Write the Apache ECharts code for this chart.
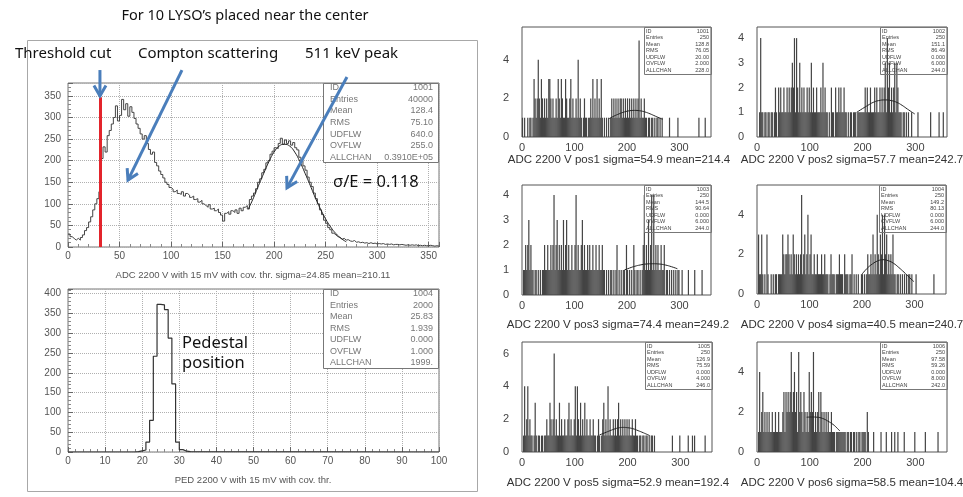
<!DOCTYPE html>
<html><head><meta charset="utf-8">
<script src="https://cdn.jsdelivr.net/npm/echarts@6/dist/echarts.min.js"></script>
<style>html,body{margin:0;padding:0;background:#fff}#c{width:963px;height:497px}</style>
</head><body><div id="c"></div>
<script>
// ---------------- DATA ----------------
const mainBinWidth = 2;
const mainCounts = [
 30,24,20,16,20,16,22,28,38,45,58,70,86,100,112,128,205,232,220,258,
 270,285,300,327,292,305,342,318,332,303,325,312,298,285,275,262,250,258,240,226,
 215,220,196,188,176,168,160,150,145,138,134,128,132,124,122,128,118,124,120,115,
 118,110,112,104,108,100,96,92,98,88,90,84,88,80,74,60,78,82,76,84,
 80,86,78,90,84,92,96,88,110,118,125,135,150,158,172,180,195,200,215,222,
 230,228,240,252,238,248,240,246,236,242,230,225,208,200,188,178,162,150,140,125,
 112,100,86,75,62,55,45,40,32,28,24,22,18,20,16,17,14,13,15,11,
 12,10,11,9,10,8,10,8,9,7,8,7,8,6,7,6,7,5,6,6,
 5,6,5,4,5,4,5,4,5,3,4,3,4,3,3,4,3,2,3,2];
const mainFitX = [175,180,185,190,195,200,205,210,215,220,225,230,235,240,245,250,255,260,265,270];
const mainFitY = [88,114,143,171,198,220,234,238,234,220,198,171,143,114,88,65,46,31,20,12];
const thresholdX = 31;
const thresholdTop = 347;
const mainStats = [['ID','1001'],['Entries','40000'],['Mean','128.4'],['RMS','75.10'],['UDFLW','640.0'],['OVFLW','255.0'],['ALLCHAN','0.3910E+05']];
const mainCaption = 'ADC 2200 V with 15 mV with cov. thr. sigma=24.85 mean=210.11';

const pedFirstEdge = 18;
const pedBinWidth = 1;
const pedCounts = [1,3,5,25,80,242,373,372,360,288,172,25,6,2,1];
const pedStats = [['ID','1004'],['Entries','2000'],['Mean','25.83'],['RMS','1.939'],['UDFLW','0.000'],['OVFLW','1.000'],['ALLCHAN','1999.']];
const pedCaption = 'PED 2200 V with 15 mV with cov. thr.';

const smallBinWidth = 2;
const pos1Counts = [
 1,0,1,0,0,1,0,1,1,0,1,3,2,1,2,4,2,1,3,2,
 1,2,1,2,1,3,3,2,1,2,1,1,2,1,3,2,1,3,2,1,
 1,3,2,1,1,2,3,1,2,1,1,2,1,4,1,2,1,0,1,2,
 1,1,0,1,1,2,1,3,1,2,1,3,1,2,1,3,1,0,1,0,
 1,0,1,0,1,2,1,2,1,2,1,2,1,2,2,1,2,1,2,1,
 2,1,2,1,2,1,2,1,2,1,2,5,1,2,1,1,2,1,1,0,
 1,1,0,1,1,0,1,0,1,1,0,1,0,1,0,0,0,0,0,0,
 1,0,0,0,0,0,0,0,1,0,0,0,0,0,0,0,0,0,0,0,
 0,0,0,0,0,0,0,0,1,0,0,0,0,0,1,0,0,0,0,0];
const pos2Counts = [
 0,0,1,4,1,1,0,1,1,0,1,1,0,1,1,0,1,2,1,0,
 2,1,2,1,1,2,1,1,2,1,2,1,2,3,2,4,1,4,2,1,
 3,1,2,1,2,1,1,2,1,2,1,3,1,2,1,1,2,1,1,1,
 2,1,3,1,2,1,1,0,1,0,2,1,1,0,2,1,1,2,1,2,
 1,1,2,1,1,0,1,0,1,1,0,1,1,1,0,1,1,1,1,1,
 1,1,2,1,2,1,1,2,1,1,1,2,1,2,1,1,2,1,2,1,
 2,3,1,4,2,3,1,2,1,2,3,1,3,2,1,1,1,0,1,1,
 0,1,0,1,0,0,1,0,0,0,0,0,1,0,0,0,0,0,0,0,
 0,0,0,0,1,0,0,0,0,0,0,0,1,0,0,0,1,0,0,0];
const pos3Counts = [
 0,1,1,2,1,2,3,1,2,1,1,0,1,1,0,1,0,1,0,1,
 1,2,1,1,2,1,1,2,1,2,4,1,2,3,1,2,1,2,1,3,
 1,2,3,1,2,1,1,2,1,1,2,4,1,2,1,1,2,3,1,2,
 1,1,2,1,2,1,1,2,1,1,2,1,1,2,1,1,2,1,1,0,
 1,0,1,0,1,1,0,1,0,1,2,0,1,0,1,0,1,1,0,2,
 1,0,1,0,1,0,2,1,0,1,1,0,1,0,1,2,4,1,2,1,
 3,1,2,4,1,4,1,2,1,2,1,1,2,1,1,2,0,1,1,0,
 1,0,1,0,1,0,1,0,1,1,0,0,1,0,0,0,0,0,1,0,
 0,0,0,0,1,0,0,0,0,0,0,1,0,0,0,0,0,0,0,0];
const pos4Counts = [
 0,3,1,1,3,1,0,1,0,3,1,0,0,1,0,1,0,1,1,0,
 1,1,1,1,3,2,1,2,2,3,2,1,2,1,3,2,1,2,1,2,
 1,2,5,1,2,3,1,2,4,1,2,3,1,1,2,1,1,2,1,1,
 1,2,1,1,2,1,1,1,0,1,2,1,1,1,0,1,1,1,2,1,
 1,1,0,2,1,1,1,0,1,1,2,0,1,0,1,0,1,0,0,1,
 1,0,1,0,1,2,1,1,2,1,3,1,2,1,4,2,1,3,2,4,
 1,4,2,3,1,2,1,2,1,3,1,1,0,1,1,0,1,0,1,0,
 1,0,1,0,1,1,0,1,0,0,0,1,0,0,0,0,0,0,0,0,
 0,0,0,0,0,0,0,0,1,0,0,0,0,0,0,0,0,0,0,0];
const pos5Counts = [
 0,1,4,1,2,4,1,2,1,1,0,1,3,1,0,1,1,0,1,1,
 0,1,1,2,1,1,3,2,1,2,6,1,2,1,1,3,1,2,1,1,
 2,1,1,2,3,1,2,1,1,2,4,1,4,2,1,3,1,2,1,3,
 1,2,1,1,2,1,1,2,1,1,0,1,2,1,0,1,2,3,1,2,
 1,4,1,2,1,1,2,1,2,1,2,3,1,2,1,2,1,2,1,2,
 1,2,1,1,2,1,1,2,1,1,0,1,1,0,1,1,0,1,1,0,
 1,0,1,1,0,1,0,0,0,0,0,0,0,0,0,0,0,0,0,0,
 0,0,1,0,0,0,0,0,0,1,0,0,0,0,0,0,0,1,0,0,
 0,1,0,1,0,0,0,0,0,0,0,0,0,1,0,0,0,0,0,0];
const pos6Counts = [
 0,1,4,1,2,3,1,2,1,2,1,2,1,1,2,1,1,2,1,1,
 2,1,1,1,2,3,1,3,2,3,2,3,5,2,3,4,2,3,1,5,
 2,3,2,1,3,2,1,2,1,4,2,3,2,5,1,2,1,2,3,1,
 3,2,1,2,1,2,1,2,1,1,2,1,1,1,0,1,1,1,1,1,
 1,1,1,1,0,1,1,0,1,1,0,1,1,0,1,0,1,1,0,1,
 1,1,1,0,2,1,0,0,0,0,1,0,0,0,0,0,0,1,0,0,
 0,0,1,0,0,0,0,1,0,0,1,0,0,1,0,0,0,0,0,1,
 0,0,0,0,0,0,0,0,0,1,0,0,0,0,0,0,0,0,0,1,
 0,0,0,0,0,0,0,0,0,0,0,1,0,0,0,0,0,0,0,0];
const pos1FitX = [166,175,185,195,205,214,224,234,244,254,264,268];
const pos1FitY = [0.95,1.08,1.2,1.3,1.36,1.38,1.36,1.3,1.2,1.08,0.96,0.92];
const pos2FitX = [189,200,210,220,230,243,255,265,275,285,299];
const pos2FitY = [1.0,1.15,1.28,1.4,1.47,1.5,1.47,1.4,1.28,1.13,0.93];
const pos3FitX = [195,205,215,225,237,249,261,273,285,296];
const pos3FitY = [1.0,1.08,1.15,1.2,1.24,1.25,1.24,1.2,1.13,1.05];
const pos4FitX = [200,210,220,230,240,250,260,270,280,290,299];
const pos4FitY = [1.0,1.3,1.52,1.67,1.73,1.68,1.55,1.34,1.1,0.84,0.62];
const pos5FitX = [147,157,167,177,185,192,200,210,220,230,242];
const pos5FitY = [1.04,1.17,1.3,1.42,1.48,1.5,1.48,1.42,1.3,1.17,1.0];
const pos6FitX = [94,104,114,124,134,144,150,157];
const pos6FitY = [1.74,1.75,1.74,1.68,1.55,1.38,1.24,1.05];
const smallCaptions = [
 'ADC 2200 V pos1 sigma=54.9 mean=214.4','ADC 2200 V pos2 sigma=57.7 mean=242.7',
 'ADC 2200 V pos3 sigma=74.4 mean=249.2','ADC 2200 V pos4 sigma=40.5 mean=240.7',
 'ADC 2200 V pos5 sigma=52.9 mean=192.4','ADC 2200 V pos6 sigma=58.5 mean=104.4'];
const smallYMax = [5.7,4.45,4.4,5.5,6.7,5.5];
const smallYInterval = [2,1,1,2,2,2];
const smallStats = [
 [['ID','1001'],['Entries','250'],['Mean','128.8'],['RMS','76.05'],['UDFLW','20.00'],['OVFLW','2.000'],['ALLCHAN','228.0']],
 [['ID','1002'],['Entries','250'],['Mean','151.1'],['RMS','86.49'],['UDFLW','0.000'],['OVFLW','6.000'],['ALLCHAN','244.0']],
 [['ID','1003'],['Entries','250'],['Mean','144.5'],['RMS','90.64'],['UDFLW','0.000'],['OVFLW','6.000'],['ALLCHAN','244.0']],
 [['ID','1004'],['Entries','250'],['Mean','149.2'],['RMS','80.13'],['UDFLW','0.000'],['OVFLW','6.000'],['ALLCHAN','244.0']],
 [['ID','1005'],['Entries','250'],['Mean','126.9'],['RMS','75.59'],['UDFLW','0.000'],['OVFLW','4.000'],['ALLCHAN','246.0']],
 [['ID','1006'],['Entries','250'],['Mean','97.58'],['RMS','59.26'],['UDFLW','0.000'],['OVFLW','8.000'],['ALLCHAN','242.0']]];
// annotation arrows, in data units of the top-left histogram
const arrowFrom = [[31,410],[110.6,410],[270.7,394]];
const arrowTo   = [[31,350],[58.2,155],[212.5,137]];

// ---------------- LAYOUT ----------------
const RF = 'Liberation Sans';
const AF = 'Noto Sans';
const gridRects = [
 {left:68, top:83, width:371, height:164},
 {left:68, top:289, width:371, height:163},
 {left:522, top:27, width:189, height:110},
 {left:757, top:27, width:190, height:110},
 {left:522, top:185, width:189, height:110},
 {left:757, top:185, width:189, height:109},
 {left:522, top:342, width:190, height:110},
 {left:757, top:342, width:190, height:110}
];
const captionPos = [[619,160],[852,160],[618,325],[852,325],[618,483],[852,483]];

const chart = echarts.init(document.getElementById('c'), null, {renderer:'canvas', width:963, height:497});

const grids = gridRects.map((r,i)=>Object.assign({}, r, {show:true, borderColor: i<2 ? '#777' : '#555', borderWidth:1, backgroundColor:'transparent', containLabel:false}));
const xAxes = [], yAxes = [], series = [];

function bigAxis(gi, min, max, interval, showMax) {
  return {gridIndex:gi, type:'value', min:min, max:max, interval:interval,
    axisLine:{show:false},
    axisTick:{show:true, inside:true, length:5, lineStyle:{color:'#666'}},
    minorTick:{show:true, splitNumber:5, length:3, lineStyle:{color:'#888'}},
    splitLine:{show:true, lineStyle:{type:'dotted', color:'#b0b0b0'}},
    axisLabel:{fontFamily:RF, fontSize:10, color:'#555', margin:4, showMaxLabel:showMax}};
}
xAxes.push(bigAxis(0,0,360,50,false));
yAxes.push(bigAxis(0,0,380,50,false));
xAxes.push(bigAxis(1,0,100,10,true));
yAxes.push(bigAxis(1,0,412,50,false));
yAxes[0].axisLabel.margin = 7; yAxes[1].axisLabel.margin = 7;

// main histogram (step)
const mainData = mainCounts.map((c,i)=>[i*mainBinWidth, c]);
mainData.push([mainCounts.length*mainBinWidth, mainCounts[mainCounts.length-1]]);
series.push({type:'line', xAxisIndex:0, yAxisIndex:0, step:'end', symbol:'none', data:mainData,
  lineStyle:{color:'#444', width:1}, silent:true, z:3,
  markLine:{silent:true, symbol:['none','none'], label:{show:false},
    lineStyle:{color:'#e3242b', width:3, type:'solid'},
    data:[[{coord:[thresholdX,0]},{coord:[thresholdX,thresholdTop]}]]}});
series.push({type:'line', xAxisIndex:0, yAxisIndex:0, smooth:true, symbol:'none',
  data:mainFitX.map((x,i)=>[x, mainFitY[i]]), lineStyle:{color:'#222', width:1}, silent:true, z:4});

// pedestal histogram
const pedData = [[0,0]];
pedCounts.forEach((c,i)=>pedData.push([pedFirstEdge+i*pedBinWidth, c]));
pedData.push([pedFirstEdge+pedCounts.length*pedBinWidth, 0]);
pedData.push([100,0]);
series.push({type:'line', xAxisIndex:1, yAxisIndex:1, step:'end', symbol:'none', data:pedData,
  lineStyle:{color:'#333', width:1.2}, silent:true});

// small panels
const smallCounts = [pos1Counts,pos2Counts,pos3Counts,pos4Counts,pos5Counts,pos6Counts];
const smallFitX = [pos1FitX,pos2FitX,pos3FitX,pos4FitX,pos5FitX,pos6FitX];
const smallFitY = [pos1FitY,pos2FitY,pos3FitY,pos4FitY,pos5FitY,pos6FitY];
for (let k=0;k<6;k++){
  const gi = k+2;
  xAxes.push({gridIndex:gi, type:'value', min:0, max:360, interval:100,
    axisLine:{show:false}, axisTick:{show:false}, splitLine:{show:false},
    axisLabel:{fontFamily:RF, fontSize:11, color:'#444', margin:5, showMaxLabel:false}});
  yAxes.push({gridIndex:gi, type:'value', min:0, max:smallYMax[k], interval:smallYInterval[k],
    axisLine:{show:false}, axisTick:{show:false}, splitLine:{show:false},
    axisLabel:{fontFamily:RF, fontSize:11, color:'#444', margin:13, showMaxLabel:false}});
  const bars = [];
  smallCounts[k].forEach((c,i)=>{ if (c>0) bars.push([i*smallBinWidth+smallBinWidth/2, c]); });
  series.push({type:'bar', xAxisIndex:gi, yAxisIndex:gi, data:bars, barWidth:1.2,
    itemStyle:{color:'#444'}, silent:true});
  series.push({type:'line', xAxisIndex:gi, yAxisIndex:gi, smooth:true, symbol:'none',
    data:smallFitX[k].map((x,i)=>[x, smallFitY[k][i]]), lineStyle:{color:'#222', width:1}, silent:true, z:4});
}

chart.setOption({animation:false, grid:grids, xAxis:xAxes, yAxis:yAxes, series:series});

// ---------------- GRAPHICS ----------------
const g = [];
g.push({type:'rect', shape:{x:27.5, y:40.5, width:450, height:451}, style:{fill:'none', stroke:'#a8a8a8', lineWidth:1}, z:1});
function txt(t, x, y, font, fill, align) {
  return {type:'text', x:x, y:y, z:20, style:{text:t, font:font, fill:fill, textAlign:align||'left', textVerticalAlign:'middle'}};
}
function statBox(r, rows, fontPx, padL, padR, fill, color, firstOff, step) {
  const out = [{type:'rect', z:10, shape:{x:r.x+0.5, y:r.y+0.5, width:r.w, height:r.h}, style:{fill:fill, stroke:'#777', lineWidth:1}}];
  rows.forEach((row,i)=>{
    const yy = r.y + firstOff + i*step;
    out.push(txt(row[0], r.x+padL, yy, fontPx+'px "'+RF+'"', color, 'left'));
    out.push(txt(row[1], r.x+r.w-padR, yy, fontPx+'px "'+RF+'"', color, 'right'));
  });
  return out;
}
// main/ped stat boxes
g.push(...statBox({x:323, y:83, w:115, h:79}, mainStats, 9, 7, 5, '#fff', '#777', 4.8, 11.6));
g.push(...statBox({x:323, y:289, w:115, h:79}, pedStats, 9, 7, 5, '#fff', '#777', 4.8, 11.5));
// small stat boxes
for (let k=0;k<6;k++){
  const r = gridRects[k+2];
  const bx = Math.round(r.left + r.width*0.645);
  g.push(...statBox({x:bx, y:r.top, w:r.left+r.width-bx, h:47}, smallStats[k], 5.5, 2, 2, 'none', '#444', 4, 6.5));
  g.push(txt(smallCaptions[k], captionPos[k][0], captionPos[k][1], '11.5px "'+RF+'"', '#333', 'center'));
}
// captions of left panel
g.push(txt(mainCaption, 253, 275, '9.5px "'+RF+'"', '#555', 'center'));
g.push(txt(pedCaption, 253, 480, '9.5px "'+RF+'"', '#555', 'center'));
// annotations
g.push(txt('For 10 LYSO\u2019s placed near the center', 245, 16, '14.5px "'+AF+'"', '#111', 'center'));
g.push(txt('Threshold cut', 15, 54, '15px "'+AF+'"', '#111', 'left'));
g.push(txt('Compton scattering', 138, 54, '15px "'+AF+'"', '#111', 'left'));
g.push(txt('511 keV peak', 305, 54, '15px "'+AF+'"', '#111', 'left'));
g.push(txt('\u03c3/E = 0.118', 333, 182, '16.5px "'+AF+'"', '#111', 'left'));
g.push(txt('Pedestal', 182, 343, '16.5px "'+AF+'"', '#111', 'left'));
g.push(txt('position', 182, 363, '16.5px "'+AF+'"', '#111', 'left'));
// arrows
function arrow(p0, p1) {
  const dx=p1[0]-p0[0], dy=p1[1]-p0[1]; const L=Math.hypot(dx,dy); const ux=dx/L, uy=dy/L;
  const hl=12, a=Math.PI/6, c=Math.cos(a), s=Math.sin(a);
  const bx=-ux, by=-uy;
  const h1=[p1[0]+hl*(bx*c-by*s), p1[1]+hl*(bx*s+by*c)];
  const h2=[p1[0]+hl*(bx*c+by*s), p1[1]+hl*(-bx*s+by*c)];
  const st={stroke:'#4a7ebb', lineWidth:3, fill:null, lineCap:'butt'};
  return [{type:'polyline', z:30, shape:{points:[p0,p1]}, style:st},
          {type:'polyline', z:30, shape:{points:[h1,p1,h2]}, style:Object.assign({},st,{lineJoin:'miter'})}];
}
arrowFrom.forEach((f,i)=>{
  const p0 = chart.convertToPixel({xAxisIndex:0, yAxisIndex:0}, f);
  const p1 = chart.convertToPixel({xAxisIndex:0, yAxisIndex:0}, arrowTo[i]);
  g.push(...arrow(p0,p1));
});
chart.setOption({graphic:{elements:g}});
</script></body></html>
